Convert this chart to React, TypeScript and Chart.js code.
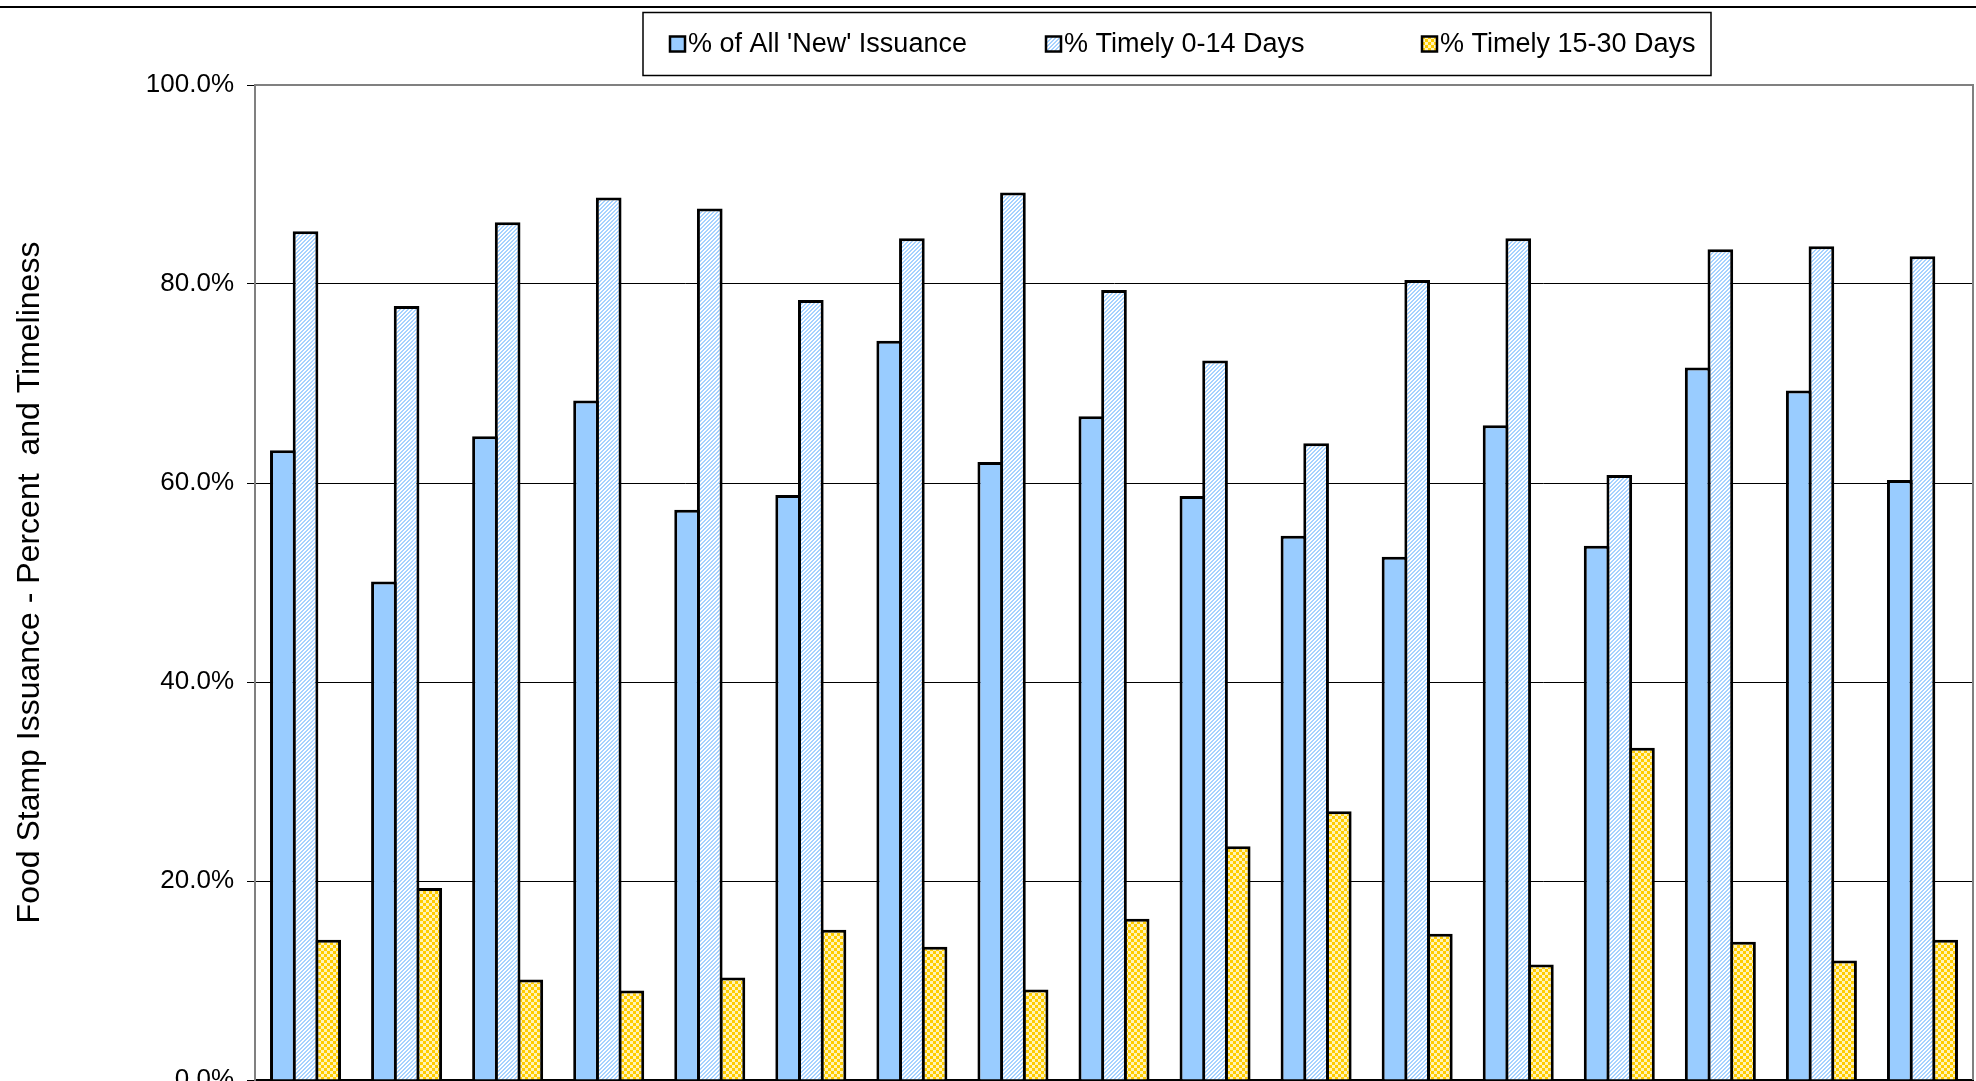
import React, { useEffect, useRef } from 'react';
import { Chart, registerables } from 'chart.js';

Chart.register(...registerables);

// ---- data ----
const categories = ['1', '2', '3', '4', '5', '6', '7', '8', '9', '10', '11', '12', '13', '14', '15', '16', '17'];
const seriesLabels = ["% of All 'New' Issuance", '% Timely 0-14 Days', '% Timely 15-30 Days'];
const newIssuance = [63.3, 50.1, 64.7, 68.3, 57.3, 58.8, 74.3, 62.1, 66.7, 58.7, 54.7, 52.6, 65.8, 53.7, 71.6, 69.3, 60.3];
const timely0to14 = [85.3, 77.8, 86.2, 88.7, 87.6, 78.4, 84.6, 89.2, 79.4, 72.3, 64.0, 80.4, 84.6, 60.8, 83.5, 83.8, 82.8];
const timely15to30 = [14.1, 19.3, 10.1, 9.0, 10.3, 15.1, 13.4, 9.1, 16.2, 23.5, 27.0, 14.7, 11.6, 33.4, 13.9, 12.0, 14.1];
const yTicks = [0, 20, 40, 60, 80, 100];
const yAxisTitle = 'Food Stamp Issuance - Percent  and Timeliness';

const FONT = '"Liberation Sans", Arial, sans-serif';

function makeHatch(): CanvasPattern | string {
  const c = document.createElement('canvas');
  c.width = 4;
  c.height = 4;
  const g = c.getContext('2d');
  if (!g) return '#cfe6ff';
  g.fillStyle = '#ffffff';
  g.fillRect(0, 0, 4, 4);
  g.fillStyle = '#a6d2ff';
  for (let y = 0; y < 4; y++) {
    for (let x = 0; x < 4; x++) {
      const m = (x + y) % 4;
      if (m === 0 || m === 1) g.fillRect(x, y, 1, 1);
    }
  }
  return g.createPattern(c, 'repeat') || '#cfe6ff';
}

function makeChecker(): CanvasPattern | string {
  const c = document.createElement('canvas');
  c.width = 6;
  c.height = 6;
  const g = c.getContext('2d');
  if (!g) return '#ffdd55';
  g.fillStyle = '#fff3b8';
  g.fillRect(0, 0, 6, 6);
  g.fillStyle = '#ffcc00';
  g.fillRect(0, 0, 3, 3);
  g.fillRect(3, 3, 3, 3);
  return g.createPattern(c, 'repeat') || '#ffdd55';
}

const framePlugin = {
  id: 'plotFrame',
  beforeDatasetsDraw(chart: any) {
    const { ctx, chartArea } = chart;
    const { left, top, right, bottom } = chartArea;
    ctx.save();
    ctx.strokeStyle = '#808080';
    ctx.lineWidth = 2;
    ctx.beginPath();
    ctx.moveTo(left, top);
    ctx.lineTo(right, top);
    ctx.lineTo(right, bottom);
    ctx.stroke();
    ctx.restore();
  },
};

const legendPlugin = {
  id: 'boxLegend',
  afterDraw(chart: any) {
    const ctx = chart.ctx as CanvasRenderingContext2D;
    ctx.save();
    // page rule at the top
    ctx.strokeStyle = '#000';
    ctx.lineWidth = 2;
    ctx.beginPath();
    ctx.moveTo(0, 7);
    ctx.lineTo(chart.width, 7);
    ctx.stroke();
    // legend box
    const bx = 643, by = 12.5, bw = 1068, bh = 63;
    ctx.fillStyle = '#fff';
    ctx.fillRect(bx, by, bw, bh);
    ctx.lineWidth = 1.5;
    ctx.strokeStyle = '#000';
    ctx.strokeRect(bx, by, bw, bh);
    const cy = by + bh / 2;
    chart.data.datasets.forEach((ds: any, i: number) => {
      const x = 670 + i * 376;
      ctx.fillStyle = ds.backgroundColor;
      ctx.fillRect(x, cy - 7.5, 15, 15);
      ctx.lineWidth = 2.5;
      ctx.strokeStyle = '#000';
      ctx.strokeRect(x, cy - 7.5, 15, 15);
      ctx.fillStyle = '#000';
      ctx.font = `27px ${FONT}`;
      ctx.textBaseline = 'middle';
      ctx.textAlign = 'left';
      ctx.fillText(ds.label, x + 18, cy + 1);
    });
    ctx.restore();
  },
};

export default function App() {
  const canvasRef = useRef<HTMLCanvasElement | null>(null);

  useEffect(() => {
    document.body.style.margin = '0';
    document.body.style.overflow = 'hidden';
    const canvas = canvasRef.current;
    if (!canvas) return;
    const hatch = makeHatch();
    const checker = makeChecker();
    const common = {
      borderColor: '#000000',
      borderWidth: 3,
      inflateAmount: 0,
      categoryPercentage: 0.673,
      barPercentage: 1.132,
    };
    const chart = new Chart(canvas, {
      type: 'bar',
      data: {
        labels: categories,
        datasets: [
          { ...common, label: seriesLabels[0], data: newIssuance, backgroundColor: '#99ccff' },
          { ...common, label: seriesLabels[1], data: timely0to14, backgroundColor: hatch as any },
          { ...common, label: seriesLabels[2], data: timely15to30, backgroundColor: checker as any },
        ],
      },
      options: {
        animation: false,
        responsive: false,
        devicePixelRatio: 1,
        layout: { padding: { top: 85, right: 3, left: 0, bottom: 0 } },
        plugins: {
          legend: { display: false },
          tooltip: { enabled: false },
          title: { display: false },
        },
        scales: {
          x: {
            type: 'category',
            offset: true,
            grid: {
              offset: true,
              drawOnChartArea: false,
              drawTicks: true,
              tickLength: 8,
              tickColor: '#000',
              color: '#000',
            },
            border: { display: true, color: '#000', width: 2 },
            ticks: { display: false },
            afterFit: (s: any) => {
              s.height = 50;
            },
          },
          y: {
            min: 0,
            max: 100,
            afterBuildTicks: (s: any) => {
              s.ticks = yTicks.map((v) => ({ value: v }));
            },
            ticks: {
              callback: (v: any) => Number(v).toFixed(1) + '%',
              font: { family: FONT, size: 26 },
              color: '#000',
              padding: 13,
            },
            grid: {
              color: (c: any) => (c.tick && c.tick.value === 100 ? 'rgba(0,0,0,0)' : '#000'),
              lineWidth: 1,
              tickLength: 8,
              tickColor: '#000',
              drawTicks: true,
            },
            border: { display: true, color: '#808080', width: 2 },
            title: {
              display: true,
              text: yAxisTitle,
              font: { family: FONT, size: 32 },
              color: '#000',
              padding: { top: 11, bottom: 0 },
            },
            afterFit: (s: any) => {
              s.width = 255;
            },
          },
        },
      },
      plugins: [framePlugin, legendPlugin],
    } as any);
    return () => {
      chart.destroy();
    };
  }, []);

  return (
    <div style={{ width: 1976, height: 1081, overflow: 'hidden', position: 'relative', background: '#fff' }}>
      <canvas ref={canvasRef} width={1976} height={1130} style={{ display: 'block', width: 1976, height: 1130 }} />
    </div>
  );
}
